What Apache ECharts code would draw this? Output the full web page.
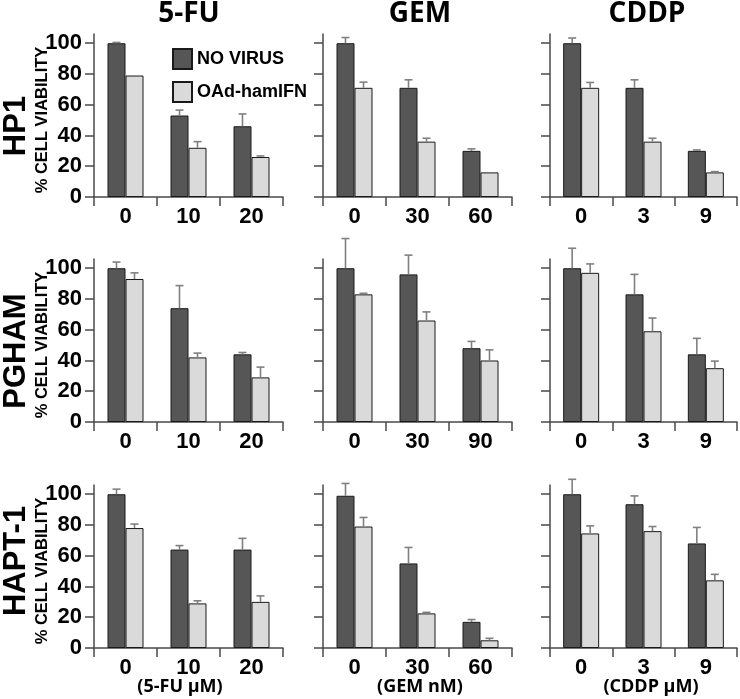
<!DOCTYPE html>
<html><head><meta charset="utf-8">
<script src="https://cdn.jsdelivr.net/npm/echarts@6/dist/echarts.min.js"></script>
<style>html,body{margin:0;padding:0;background:#fff}#c{width:740px;height:699px}</style>
</head><body><div id="c"></div>
<script>
// ---- data ----
const drugs = ['5-FU', 'GEM', 'CDDP'];
const drugUnits = ['(5-FU μM)', '(GEM nM)', '(CDDP μM)'];
const cellLines = ['HP1', 'PGHAM', 'HAPT-1'];
const seriesNames = ['NO VIRUS', 'OAd-hamIFN'];
const yTicks = [0, 20, 40, 60, 80, 100];

const dose5FU = ['0', '10', '20'];
const doseGEM = ['0', '30', '60'];
const doseGEMPgham = ['0', '30', '90'];
const doseCDDP = ['0', '3', '9'];

// [5-FU, GEM, CDDP]
const hp1NoVirus    = [[100, 53, 46], [100, 71, 30], [100, 71, 30]];
const hp1NoVirusErr = [[0.5, 3.5, 8], [3.7, 5.2, 1.3], [3.4, 5.2, 0.6]];
const hp1Oad        = [[79, 32, 26], [71, 36, 16], [71, 36, 16]];
const hp1OadErr     = [[0, 4, 0.7], [3.7, 2.2, 0], [3.5, 2.2, 0.5]];

const pghamNoVirus    = [[100, 74, 44], [100, 96, 48], [100, 83, 44]];
const pghamNoVirusErr = [[4, 14.7, 1.2], [19.3, 12.5, 4.4], [13, 13, 10.4]];
const pghamOad        = [[93, 42, 29], [83, 66, 40], [97, 59, 35]];
const pghamOadErr     = [[4, 2.8, 6.7], [0.7, 5.6, 6.9], [5.8, 8.6, 4.6]];

const haptNoVirus    = [[100, 64, 64], [99, 55, 17], [100, 93.5, 68]];
const haptNoVirusErr = [[3.3, 2.6, 7.3], [8, 10.4, 1.5], [9.7, 5.4, 10.4]];
const haptOad        = [[78, 29, 30], [79, 22.5, 5], [74.5, 76, 44]];
const haptOadErr     = [[2.6, 1.7, 3.9], [5.9, 0.7, 1.3], [4.9, 3, 3.9]];

const rowDoses = [
  [dose5FU, doseGEM, doseCDDP],
  [dose5FU, doseGEMPgham, doseCDDP],
  [dose5FU, doseGEM, doseCDDP]
];
const rowData = [
  [hp1NoVirus, hp1NoVirusErr, hp1Oad, hp1OadErr],
  [pghamNoVirus, pghamNoVirusErr, pghamOad, pghamOadErr],
  [haptNoVirus, haptNoVirusErr, haptOad, haptOadErr]
];

// ---- layout / style ----
const colLeft = [94, 323, 550];
const colWidth = [189, 189, 187];
const rowTop = [34, 259, 485];
const rowHeight = 163;
const BAR_W = 18;
const DARK = '#565656', LIGHT = '#dadada';
const AXIS = '#4a4a4a';
const ERR = '#808080';
const FONT = "'Liberation Sans', Arial, sans-serif";
const TFONT = "'Open Sans', 'Liberation Sans', sans-serif";

const grid = [], xAxis = [], yAxis = [], series = [];

function errItem(offset) {
  return function (params, api) {
    const e = api.value(2);
    if (!e) return null;
    const ci = api.value(0), v = api.value(1);
    const b = api.coord([ci, v]);
    const t = api.coord([ci, v + e]);
    const x = b[0] + offset;
    const st = { stroke: ERR, lineWidth: 1.6 };
    return { type: 'group', children: [
      { type: 'line', shape: { x1: x, y1: b[1], x2: x, y2: t[1] }, style: st },
      { type: 'line', shape: { x1: x - 4, y1: t[1], x2: x + 4, y2: t[1] }, style: st }
    ]};
  };
}

let idx = 0;
for (let r = 0; r < 3; r++) {
  for (let c = 0; c < 3; c++) {
    grid.push({ left: colLeft[c], top: rowTop[r], width: colWidth[c], height: rowHeight, outerBoundsMode: 'none' });
    xAxis.push({
      type: 'category', gridIndex: idx, data: rowDoses[r][c],
      axisLine: { lineStyle: { color: AXIS, width: 1.5 } },
      axisTick: { show: true, length: 9, lineStyle: { color: AXIS, width: 1.5 } },
      axisLabel: { color: '#000', fontFamily: FONT, fontWeight: 'bold', fontSize: 22, margin: 9 }
    });
    yAxis.push({
      type: 'value', gridIndex: idx, min: 0, max: 106,
      splitLine: { show: false },
      axisLine: { show: true, lineStyle: { color: AXIS, width: 1.5 } },
      axisTick: { show: true, length: 9, customValues: yTicks, lineStyle: { color: AXIS, width: 1.5 } },
      axisLabel: { show: c === 0, customValues: yTicks, color: '#000', fontFamily: FONT, fontWeight: 'bold', fontSize: 22, margin: 12 }
    });
    const [nv, nvE, oa, oaE] = rowData[r];
    series.push({
      type: 'bar', name: seriesNames[0], xAxisIndex: idx, yAxisIndex: idx,
      barWidth: BAR_W, barGap: '0%', data: nv[c],
      itemStyle: { color: DARK, borderColor: '#1a1a1a', borderWidth: 1 }
    });
    series.push({
      type: 'bar', name: seriesNames[1], xAxisIndex: idx, yAxisIndex: idx,
      barWidth: BAR_W, barGap: '0%', data: oa[c],
      itemStyle: { color: LIGHT, borderColor: '#1a1a1a', borderWidth: 1 }
    });
    series.push({
      type: 'custom', name: 'errA' + idx, xAxisIndex: idx, yAxisIndex: idx, z: 5,
      renderItem: errItem(-BAR_W / 2), encode: { x: 0, y: 1 },
      data: nv[c].map((v, i) => [i, v, nvE[c][i]])
    });
    series.push({
      type: 'custom', name: 'errB' + idx, xAxisIndex: idx, yAxisIndex: idx, z: 5,
      renderItem: errItem(BAR_W / 2), encode: { x: 0, y: 1 },
      data: oa[c].map((v, i) => [i, v, oaE[c][i]])
    });
    idx++;
  }
}

const graphic = [];
const titleX = [189, 420, 647];
drugs.forEach((d, c) => graphic.push({ type: 'text', x: titleX[c], y: 14,
  style: { text: d, font: "bold 28px " + TFONT, fill: '#000', align: 'center', verticalAlign: 'middle' } }));
const unitX = [180, 420, 651];
drugUnits.forEach((d, c) => graphic.push({ type: 'text', x: unitX[c], y: 687,
  style: { text: d, font: "bold 18px " + TFONT, fill: '#000', align: 'center', verticalAlign: 'middle' } }));
const rowLabelY = [126, 351, 561];
cellLines.forEach((t, r) => {
  graphic.push({ type: 'text', x: 16, y: rowLabelY[r], rotation: Math.PI / 2,
    style: { text: t, font: "bold 31px " + FONT, fill: '#000', align: 'center', verticalAlign: 'middle' } });
  graphic.push({ type: 'text', x: 42, y: rowTop[r] + 86, rotation: Math.PI / 2,
    style: { text: '% CELL VIABILITY', font: "bold 16.5px " + FONT, fill: '#000', align: 'center', verticalAlign: 'middle' } });
});

const chart = echarts.init(document.getElementById('c'), null, { renderer: 'canvas' });
chart.setOption({
  animation: false,
  backgroundColor: '#fff',
  legend: {
    data: seriesNames, orient: 'vertical', left: 167, top: 43,
    itemWidth: 19, itemHeight: 20, itemGap: 11, icon: 'rect',
    textStyle: { fontFamily: FONT, fontWeight: 'bold', fontSize: 18, color: '#000' }
  },
  grid, xAxis, yAxis, series, graphic
});
</script></body></html>
